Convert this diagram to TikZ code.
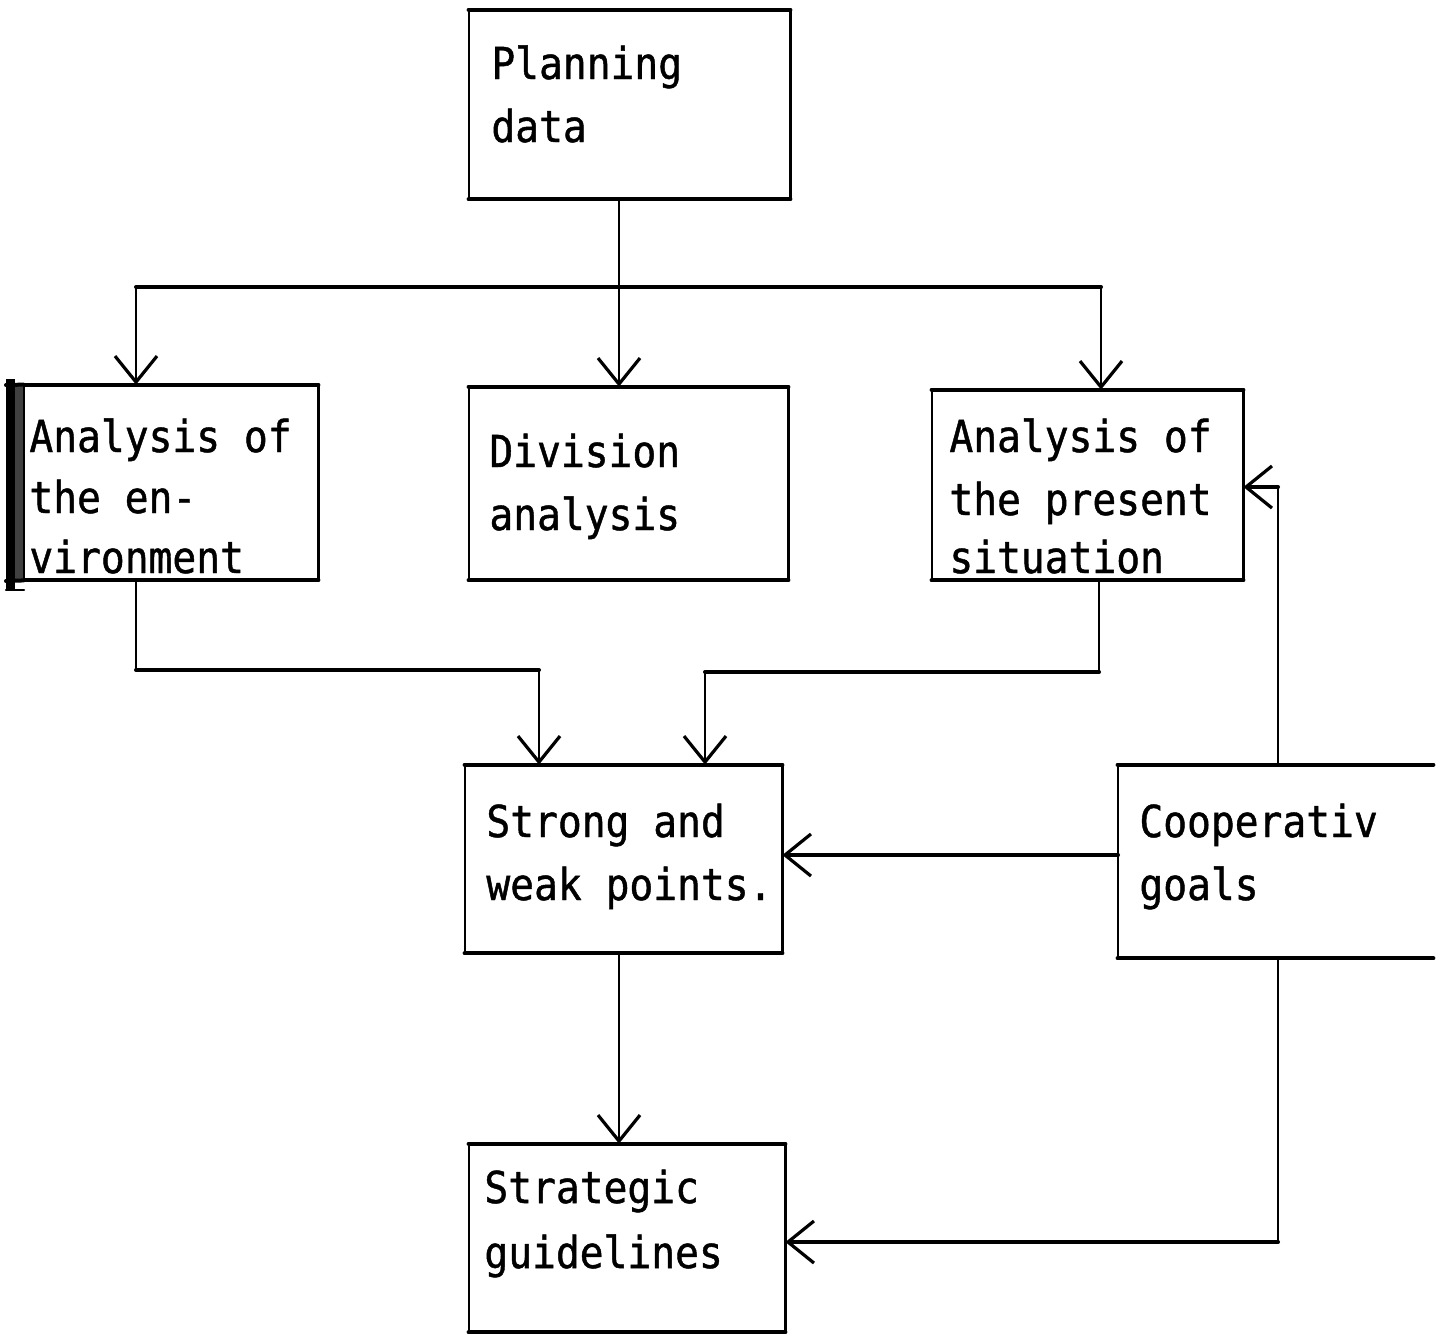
\documentclass[tikz,border=0pt]{standalone}
\usepackage{fontspec}
\newfontfamily\typewriter[FakeStretch=0.9,FakeBold=1]{DejaVu Sans Mono}
\usetikzlibrary{arrows.meta,fit}

% box outline: thin sides, heavy top and bottom rules
\newcommand{\drawframe}[1]{%
  \draw[vline] (#1.north west) -- (#1.south west) (#1.north east) -- (#1.south east);
  \draw[hline] (#1.north west) -- (#1.north east) (#1.south west) -- (#1.south east);}

\begin{document}
\begin{tikzpicture}[x=0.5pt,y=-0.5pt,
  box/.style={rectangle, draw=none, inner sep=0pt},
  vline/.style={line width=1.1pt, line cap=round},
  hline/.style={line width=2pt, line cap=round},
  barb/.tip={Straight Barb[length=13pt,width=21pt,line width=1.6pt]},
  txt/.style={anchor=base west, inner sep=0pt,
    font=\typewriter\fontsize{22pt}{26pt}\selectfont}]

\useasboundingbox (0,0) rectangle (1443,1335);

% ---- box corners ----
\coordinate (plan-a) at (469,10);   \coordinate (plan-b) at (790,199);
\coordinate (env-a) at (24,385);    \coordinate (env-b) at (318,580);
\coordinate (div-a) at (469,387);   \coordinate (div-b) at (788,580);
\coordinate (pres-a) at (932,390);  \coordinate (pres-b) at (1243,580);
\coordinate (strong-a) at (465,765);\coordinate (strong-b) at (782,953);
\coordinate (coop-a) at (1118,765); \coordinate (coop-b) at (1433,958);
\coordinate (strat-a) at (469,1144);\coordinate (strat-b) at (785,1332);

\node[box, fit=(plan-a)(plan-b)] (plan) {};
\node[box, fit=(env-a)(env-b)] (env) {};
\node[box, fit=(div-a)(div-b)] (div) {};
\node[box, fit=(pres-a)(pres-b)] (pres) {};
\node[box, fit=(strong-a)(strong-b)] (strong) {};
\node[box, fit=(coop-a)(coop-b)] (coop) {};
\node[box, fit=(strat-a)(strat-b)] (strat) {};

\drawframe{plan}
\drawframe{env}
\drawframe{div}
\drawframe{pres}
\drawframe{strong}
\drawframe{strat}
% open on the right side
\draw[vline] (coop.north west) -- (coop.south west);
\draw[hline] (coop.north west) -- (coop.north east) (coop.south west) -- (coop.south east);

% heavy bar along the left edge of the environment box
\fill[black] (6,379) rectangle (15,590);
\fill[black!75] (15,385) rectangle (23,581);
\draw[hline] (6,385) -- (env.north west) (6,581) -- (env.south west);
\draw[vline] (6,590) -- (24,590);

% ---- labels ----
\node[txt] (plan-1) at (491,79) {Planning};
\node[txt] (plan-2) at (491,142) {data};

\node[txt] (env-1) at (29,452) {Analysis of};
\node[txt] (env-2) at (29,513) {the en-};
\node[txt] (env-3) at (29,573) {vironment};

\node[txt] (div-1) at (489,467) {Division};
\node[txt] (div-2) at (489,530) {analysis};

\node[txt] (pres-1) at (949,452) {Analysis of};
\node[txt] (pres-2) at (949,515) {the present};
\node[txt] (pres-3) at (949,573) {situation};

\node[txt] (strong-1) at (486,837) {Strong and};
\node[txt] (strong-2) at (486,900) {weak points.};

\node[txt] (coop-1) at (1139,837) {Cooperativ};
\node[txt] (coop-2) at (1139,900) {goals};

\node[txt] (strat-1) at (484,1203) {Strategic};
\node[txt] (strat-2) at (484,1268) {guidelines};

% ---- connectors ----
\coordinate (busL) at (136,287);
\coordinate (busM) at (619,287);
\coordinate (busR) at (1101,287);
\draw[vline] (plan.south -| busM) -- (busM);
\draw[hline] (busL) -- (busR);
\draw[vline,-barb] (busL) -- (busL |- env.north);
\draw[vline,-barb] (busM) -- (busM |- div.north);
\draw[vline,-barb] (busR) -- (busR |- pres.north);

\coordinate (envK) at (136,670);
\coordinate (envJ) at (539,670);
\draw[vline] (envK |- env.south) -- (envK);
\draw[hline] (envK) -- (envJ);
\draw[vline,-barb] (envJ) -- (envJ |- strong.north);

\coordinate (presK) at (1099,672);
\coordinate (presJ) at (705,672);
\draw[vline] (presK |- pres.south) -- (presK);
\draw[hline] (presK) -- (presJ);
\draw[vline,-barb] (presJ) -- (presJ |- strong.north);

\coordinate (coopL) at (1118,855);
\draw[hline,-barb] (coopL) -- (coopL -| strong.east);

\coordinate (coopT) at (1278,487);
\draw[vline] (coop.north -| coopT) -- (coopT);
\draw[hline,-barb] (coopT) -- (coopT -| pres.east);

\coordinate (coopB) at (1278,1242);
\draw[vline] (coop.south -| coopB) -- (coopB);
\draw[hline,-barb] (coopB) -- (coopB -| strat.east);

\draw[vline,-barb] (strong.south -| busM) -- (busM |- strat.north);

\end{tikzpicture}
\end{document}
